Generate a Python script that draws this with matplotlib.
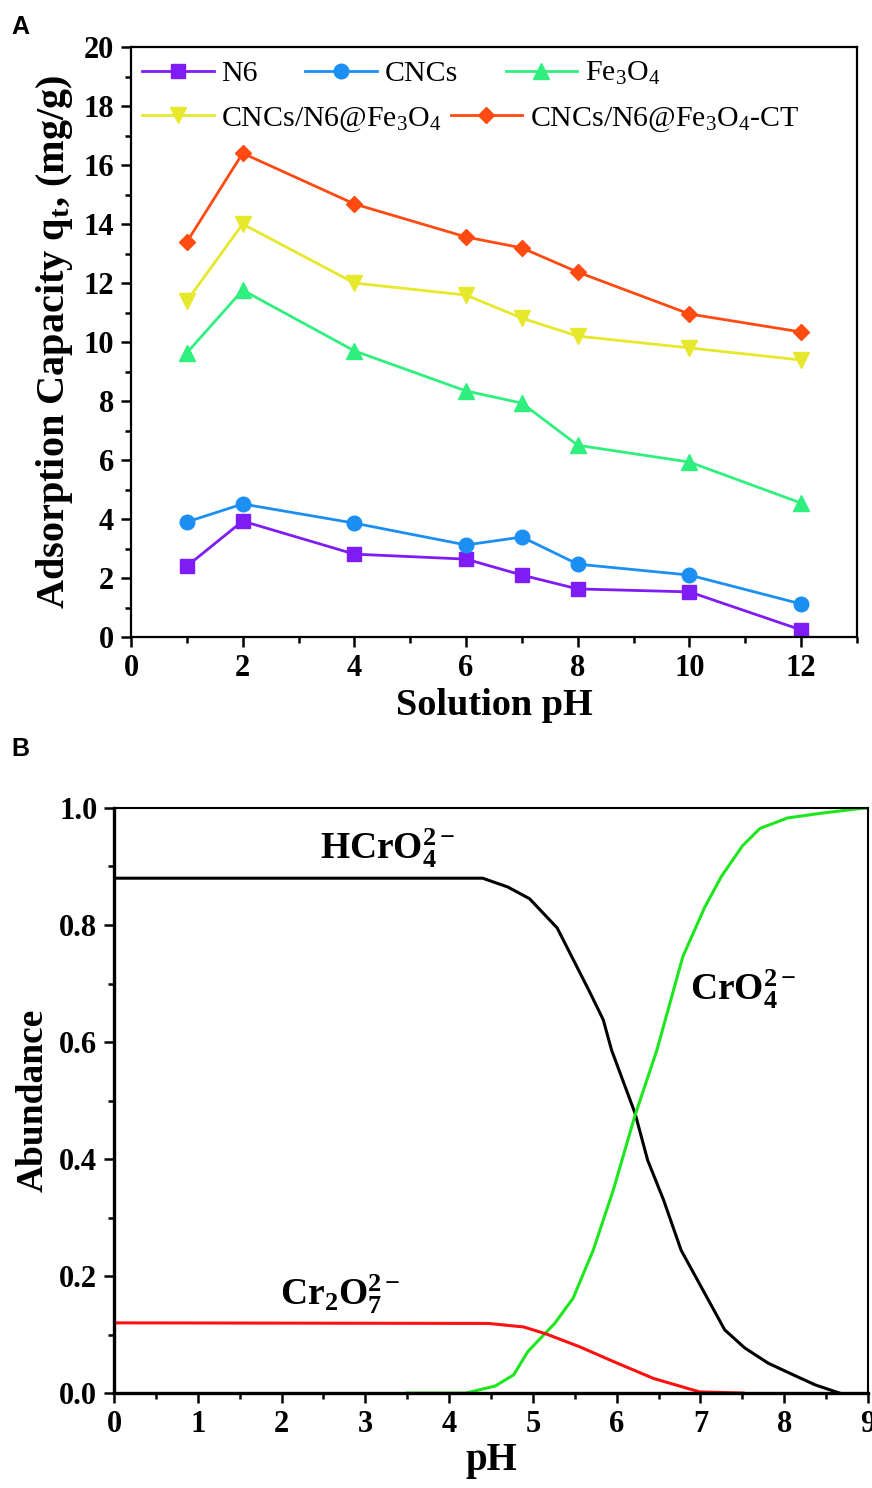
import numpy as np
import matplotlib

matplotlib.use("Agg")
import matplotlib.pyplot as plt
from matplotlib.ticker import MultipleLocator

plt.rcParams["font.family"] = ["Liberation Serif", "DejaVu Serif"]
plt.rcParams["mathtext.fontset"] = "custom"
plt.rcParams["mathtext.rm"] = "Liberation Serif"
plt.rcParams["mathtext.bf"] = "Liberation Serif:bold"
plt.rcParams["mathtext.it"] = "Liberation Serif:italic"

# --- Panel A: adsorption capacity vs solution pH --------------------------------
ph_a = [1, 2, 4, 6, 7, 8, 10, 12]
q_n6 = [2.40, 3.93, 2.81, 2.64, 2.10, 1.63, 1.53, 0.24]
q_cncs = [3.90, 4.51, 3.86, 3.12, 3.39, 2.47, 2.10, 1.12]
q_fe3o4 = [9.63, 11.76, 9.70, 8.34, 7.93, 6.50, 5.93, 4.54]
q_comp = [11.39, 14.00, 12.00, 11.59, 10.81, 10.20, 9.80, 9.39]
q_ct = [13.39, 16.40, 14.68, 13.56, 13.19, 12.37, 10.95, 10.34]

# --- Panel B: Cr(VI) species distribution vs pH ---------------------------------
ph_hcro4 = [0, 4.40, 4.70, 4.96, 5.29, 5.68, 5.84, 5.94, 6.22, 6.37, 6.56, 6.77,
            7.29, 7.53, 7.81, 8.11, 8.37, 8.66]
ab_hcro4 = [0.880, 0.880, 0.865, 0.845, 0.795, 0.685, 0.638, 0.586, 0.478, 0.398,
            0.330, 0.244, 0.108, 0.077, 0.051, 0.031, 0.014, 0.0]
ph_cro4 = [3.50, 4.20, 4.55, 4.77, 4.94, 5.26, 5.48, 5.72, 5.96, 6.22, 6.48, 6.79,
           7.05, 7.25, 7.50, 7.71, 8.04, 8.44, 8.84, 9.00]
ab_cro4 = [0.0, 0.0, 0.012, 0.031, 0.071, 0.119, 0.162, 0.244, 0.347, 0.475, 0.586,
           0.746, 0.830, 0.883, 0.935, 0.965, 0.983, 0.991, 0.998, 1.0]
ph_cr2o7 = [0, 4.47, 4.89, 5.16, 5.56, 5.96, 6.44, 6.99, 7.51]
ab_cr2o7 = [0.120, 0.119, 0.113, 0.101, 0.079, 0.054, 0.025, 0.002, 0.0]

fig = plt.figure(figsize=(8.72, 14.88), dpi=100)
axA = fig.add_axes([0.1502, 0.5719, 0.9828 - 0.1502, 0.9684 - 0.5719])
axB = fig.add_axes([0.1307, 0.0638, 0.9954 - 0.1307, 0.4570 - 0.0638])

bold = dict(fontweight="bold")

# ---------------- A ----------------
series = [
    (q_n6, "#7f1cf5", "s", 10, "N6"),
    (q_cncs, "#1b8ff2", "o", 10.5, "CNCs"),
    (q_fe3o4, "#2ff07f", "^", 11, r"Fe$_\mathrm{3}$O$_\mathrm{4}$"),
    (q_comp, "#e6e82c", "v", 11, r"CNCs/N6@Fe$_\mathrm{3}$O$_\mathrm{4}$"),
    (q_ct, "#ff4a12", "D", 8.5, r"CNCs/N6@Fe$_\mathrm{3}$O$_\mathrm{4}$-CT"),
]
handles = []
for vals, c, m, ms, lab in series:
    (h,) = axA.plot(ph_a, vals, color=c, marker=m, ms=ms, lw=2.0, label=lab)
    handles.append(h)

axA.set_xlim(0, 13)
axA.set_ylim(0, 20)
axA.xaxis.set_major_locator(MultipleLocator(2))
axA.xaxis.set_minor_locator(MultipleLocator(1))
axA.yaxis.set_major_locator(MultipleLocator(2))
axA.yaxis.set_minor_locator(MultipleLocator(1))
axA.set_xlabel("Solution pH", fontsize=27.5, **bold, labelpad=4)
axA.set_ylabel(r"Adsorption Capacity q$_\mathbf{t}$, (mg/g)", fontsize=29, **bold, labelpad=6)

leg_kw = dict(frameon=False, fontsize=21.5, handlelength=2.4, handletextpad=0.25,
              borderpad=0, borderaxespad=0, loc="center left")
leg1 = axA.legend(handles[:3], [s[4] for s in series[:3]], ncol=3, columnspacing=1.6,
                  bbox_to_anchor=(0.015, 0.955), **leg_kw)
axA.add_artist(leg1)
axA.legend(handles[3:], [s[4] for s in series[3:]], ncol=2, columnspacing=0.3,
           bbox_to_anchor=(0.015, 0.878), **leg_kw)

for sp in axA.spines.values():
    sp.set_linewidth(1.6)

# ---------------- B ----------------
axB.plot(ph_hcro4, ab_hcro4, color="black", lw=2.2)
axB.plot(ph_cro4, ab_cro4, color="#1ee61e", lw=2.2)
axB.plot(ph_cr2o7, ab_cr2o7, color="#ff1010", lw=2.2)

axB.text(2.46, 0.912, r"HCrO$_\mathbf{4}^\mathbf{2-}$", fontsize=27, **bold, va="baseline")
axB.text(6.87, 0.672, r"CrO$_\mathbf{4}^\mathbf{2-}$", fontsize=27, **bold, va="baseline")
axB.text(1.98, 0.150, r"Cr$_\mathbf{2}$O$_\mathbf{7}^\mathbf{2-}$", fontsize=27, **bold, va="baseline")

axB.set_xlim(0, 9)
axB.set_ylim(0, 1.0)
axB.xaxis.set_major_locator(MultipleLocator(1))
axB.xaxis.set_minor_locator(MultipleLocator(0.5))
axB.yaxis.set_major_locator(MultipleLocator(0.2))
axB.yaxis.set_minor_locator(MultipleLocator(0.1))
axB.yaxis.set_major_formatter(matplotlib.ticker.FormatStrFormatter("%.1f"))
axB.set_xlabel("pH", fontsize=28, **bold, labelpad=2)
axB.set_ylabel("Abundance", fontsize=27, **bold, labelpad=6)
axB.spines["left"].set_linewidth(2.4)
axB.spines["bottom"].set_linewidth(2.4)
axB.spines["top"].set_linewidth(1.5)
axB.spines["right"].set_linewidth(1.5)

for ax in (axA, axB):
    ax.tick_params(which="both", direction="out", width=1.8, top=False, right=False)
    ax.tick_params(which="major", length=7, labelsize=22, pad=5)
    ax.tick_params(which="minor", length=4)
    for lab in ax.get_xticklabels() + ax.get_yticklabels():
        lab.set_fontweight("bold")

fig.text(0.013, 0.977, "A", fontsize=18, fontweight="bold", family="Liberation Sans")
fig.text(0.013, 0.492, "B", fontsize=18, fontweight="bold", family="Liberation Sans")

fig.savefig("out.png", dpi=100)
